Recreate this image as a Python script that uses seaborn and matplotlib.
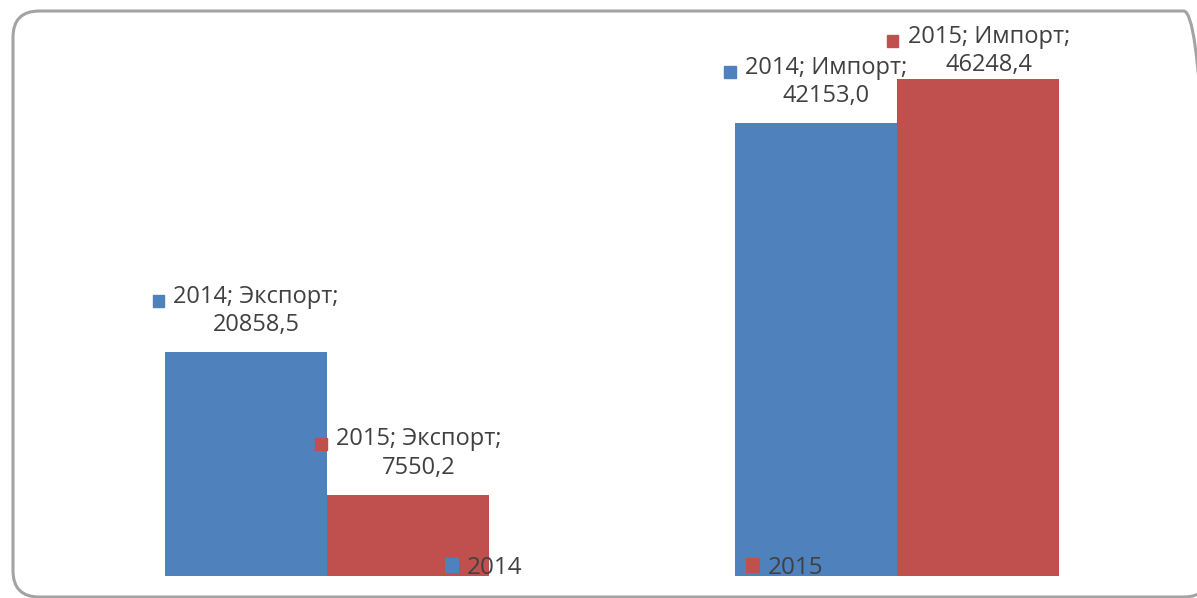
import pandas as pd
import matplotlib
matplotlib.use("Agg")
import matplotlib.pyplot as plt
import seaborn as sns
from matplotlib.patches import FancyBboxPatch, Rectangle, Patch
from matplotlib.offsetbox import TextArea, DrawingArea, HPacker, VPacker, AnnotationBbox

# data
categories = ["Экспорт", "Импорт"]
years = ["2014", "2015"]
values_2014 = [20858.5, 42153.0]
values_2015 = [7550.2, 46248.4]

colors = {"2014": "#4F81BD", "2015": "#C0504D"}
text_color = "#404040"

df = pd.DataFrame({
    "category": categories * 2,
    "year": [years[0]] * len(categories) + [years[1]] * len(categories),
    "value": values_2014 + values_2015,
})

sns.set_style("white")
plt.rcParams["font.family"] = ["Open Sans", "DejaVu Sans"]

W, H = 1197, 598
fig = plt.figure(figsize=(W / 100, H / 100), dpi=100)
ax = fig.add_axes([42 / W, (H - 576) / H, 1140 / W, 537 / H])

# rounded frame; it runs off the right and bottom edges of the picture
frame = FancyBboxPatch((13 / W, 1 / H), (1210 - 13) / W, (587 - 1) / H,
                       boxstyle="round,pad=0,rounding_size=0.022",
                       transform=fig.transFigure, facecolor="none",
                       edgecolor="#a3a3a3", linewidth=2.2, mutation_aspect=W / H,
                       clip_on=False)
fig.patches.append(frame)

sns.barplot(data=df, x="category", y="value", hue="year", order=categories,
            hue_order=years, palette=colors, width=0.57, saturation=1,
            linewidth=0, legend=False, ax=ax)

ax.set_xlim(-0.5, 1.5)
ax.set_ylim(0, 50000)
ax.set_xlabel("")
ax.set_ylabel("")
ax.set_xticks([])
ax.set_yticks([])
sns.despine(ax=ax, left=True, bottom=True)

# data labels: "■ год; категория;" / value
fs = 17
labels = []
for year, container in zip(years, ax.containers):
    for cat, bar in zip(categories, container):
        val = bar.get_height()
        x = bar.get_x() + bar.get_width() / 2
        mark = DrawingArea(13, 24, 0, 0)
        mark.add_artist(Rectangle((0, 8), 8.5, 8.5, color=colors[year]))
        line1 = TextArea(f"{year}; {cat};", textprops=dict(fontsize=fs, color=text_color))
        line2 = TextArea(f"{val:.1f}".replace(".", ","), textprops=dict(fontsize=fs, color=text_color))
        lines = VPacker(children=[line1, line2], align="center", pad=0, sep=3)
        box = HPacker(children=[mark, lines], align="top", pad=0, sep=2)
        ab = AnnotationBbox(box, (x, val), xybox=(0, 11), xycoords="data",
                            boxcoords="offset points", box_alignment=(0.5, 0),
                            frameon=False, pad=0)
        ax.add_artist(ab)
        labels.append(ab)

# keep labels inside the chart frame: push down any that stick out at the top
fig.canvas.draw()
renderer = fig.canvas.get_renderer()
top_limit = H - 25
for ab in labels:
    top = ab.get_window_extent(renderer).y1
    if top > top_limit:
        dx, dy = ab.xybox
        ab.xybox = (dx, dy - (top - top_limit) * 72 / fig.dpi)

# legend sitting low over the plot, as in the original
handles = [Patch(facecolor=colors[y], edgecolor="none", label=y) for y in years]
fig.legend(handles=handles, loc="center", bbox_to_anchor=(634 / W, 1 - 568 / H),
           ncol=2, frameon=False, fontsize=17.5, handlelength=0.6, handleheight=0.6,
           handletextpad=0.3, columnspacing=9.2, labelcolor=text_color)

fig.savefig("out.png", dpi=100)
